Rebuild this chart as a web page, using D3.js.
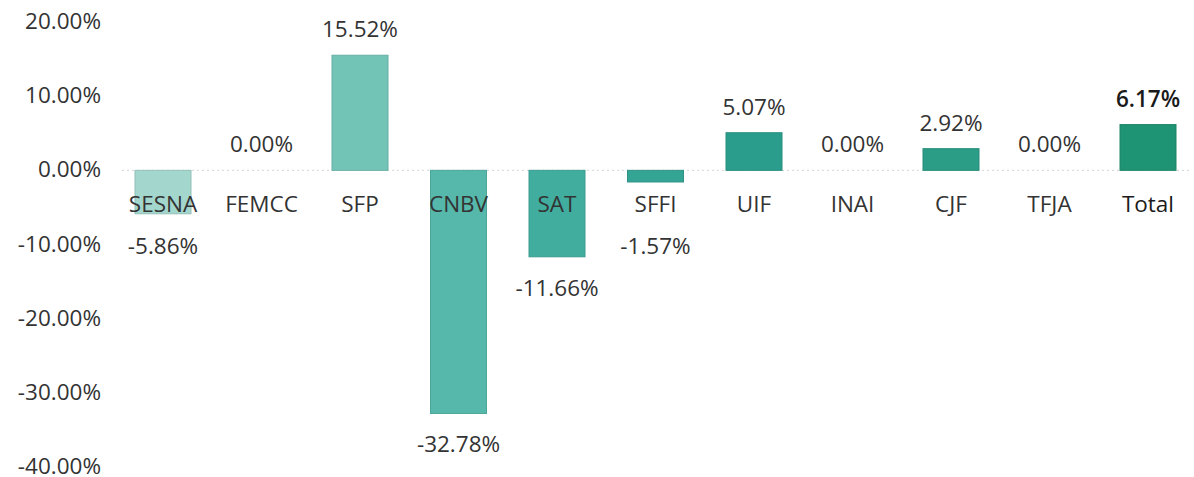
<!DOCTYPE html>
<html lang="en">
<head>
    <meta charset="UTF-8">
    <title>Variación por unidad</title>
    <script src="https://d3js.org/d3.v7.min.js"></script>
    <style>
        body {
            margin: 0;
            padding: 0;
            background-color: #fff;
            font-family: "Open Sans", "Noto Sans", sans-serif;
        }
        svg text {
            font-size: 22.5px;
        }
    </style>
</head>
<body>
    <div id="chart"></div>

    <script>
        // Data
        const categories = ["SESNA", "FEMCC", "SFP", "CNBV", "SAT", "SFFI", "UIF", "INAI", "CJF", "TFJA", "Total"];
        const values = [-5.86, 0.00, 15.52, -32.78, -11.66, -1.57, 5.07, 0.00, 2.92, 0.00, 6.17];
        const barColors = ["#a3d6cd", "#9bd2c8", "#72c4b6", "#55b8aa", "#40ad9f", "#34a495", "#2a9d8c", "#299a88", "#2b9c85", "#24977c", "#1f9474"];
        const yTicks = [20, 10, 0, -10, -20, -30, -40];

        const width = 1194;
        const height = 477;
        const barWidth = 56;

        const svg = d3.select("#chart")
            .append("svg")
            .attr("width", width)
            .attr("height", height);

        const x = d3.scalePoint()
            .domain(categories)
            .range([163, 1148]);

        const y = d3.scaleLinear()
            .domain([-40, 20])
            .range([467, 22]);

        // plain hyphen for negatives, like the original
        const fmt = d => d.toFixed(2) + "%";

        // y axis labels (no line, no ticks)
        svg.append("g")
            .selectAll("text")
            .data(yTicks)
            .join("text")
            .attr("x", 101)
            .attr("y", d => y(d) + 7)
            .attr("text-anchor", "end")
            .attr("fill", "#333")
            .text(d => fmt(d));

        // dotted zero line
        svg.append("line")
            .attr("x1", 122)
            .attr("x2", width - 4)
            .attr("y1", y(0))
            .attr("y2", y(0))
            .attr("stroke", "#d4d4d4")
            .attr("stroke-width", 1)
            .attr("stroke-dasharray", "2,3");

        const rows = categories.map((c, i) => ({ name: c, value: values[i], color: barColors[i] }));

        // bars
        svg.append("g")
            .selectAll("rect")
            .data(rows)
            .join("rect")
            .attr("x", d => x(d.name) - barWidth / 2)
            .attr("y", d => y(Math.max(0, d.value)))
            .attr("width", barWidth)
            .attr("height", d => Math.abs(y(d.value) - y(0)))
            .attr("fill", d => d.color)
            .attr("stroke", d => d3.color(d.color).darker(0.3))
            .attr("stroke-width", 1);

        // category labels
        svg.append("g")
            .selectAll("text")
            .data(rows)
            .join("text")
            .attr("x", d => x(d.name))
            .attr("y", y(0) + 42)
            .attr("text-anchor", "middle")
            .attr("fill", d => d.name === "Total" ? "#1a1a1a" : "#333")
            .text(d => d.name);

        // value labels
        svg.append("g")
            .selectAll("text")
            .data(rows)
            .join("text")
            .attr("x", d => x(d.name))
            .attr("y", d => d.value >= 0
                ? y(d.value) - 18
                : Math.max(y(d.value) + 39, y(0) + 84))
            .attr("text-anchor", "middle")
            .attr("fill", d => d.name === "Total" ? "#1a1a1a" : "#333")
            .attr("font-weight", d => d.name === "Total" ? 600 : 400)
            .text(d => fmt(d.value));
    </script>
</body>
</html>
